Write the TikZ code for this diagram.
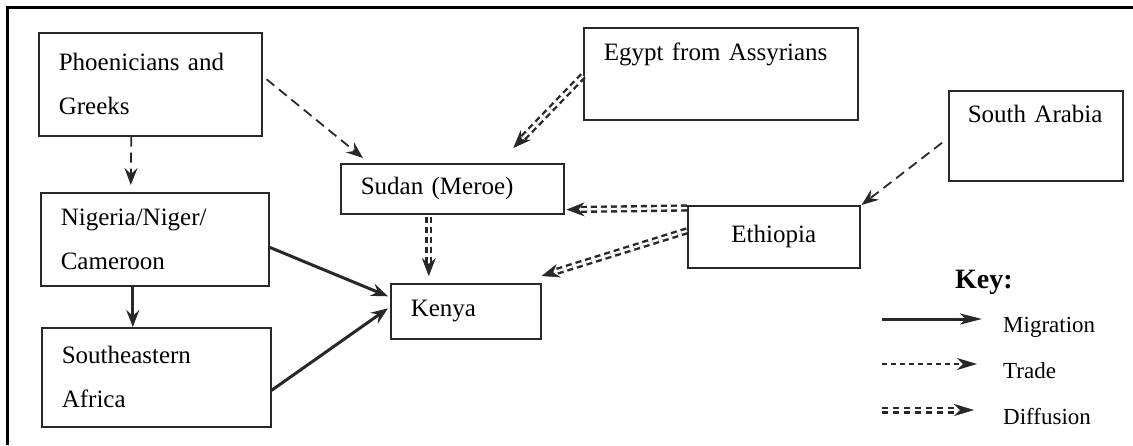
\documentclass[tikz,border=0pt]{standalone}
\usepackage{fontspec}
\setmainfont{Liberation Serif}
\usetikzlibrary{arrows.meta,calc}
\definecolor{ink}{RGB}{40,40,40}
\begin{document}
\begin{tikzpicture}[x=1pt,y=-1pt,
  box/.style={draw=ink, line width=1.6pt, anchor=north west, align=left,
    inner xsep=20pt, inner ysep=0pt, font=\fontsize{25}{44}\selectfont},
  tip/.style={-{Stealth[length=17pt,width=13pt,inset=6pt]}},
  migr/.style={draw=ink, line width=3pt, tip},
  trade/.style={draw=ink, line width=1.8pt, dash pattern=on 10pt off 6pt, tip},
  diff/.style={draw=ink, line width=2.4pt, double=white, double distance=2.4pt,
    dash pattern=on 6pt off 4pt, shorten >=12pt},
  difftip/.style={draw=ink, line width=0.5pt, -{Stealth[length=18pt,width=14pt,inset=6pt]}},
  keylab/.style={anchor=base west, font=\fontsize{23}{26}\selectfont, inner sep=0pt}]
\useasboundingbox (0,0) rectangle (1133,445);
% frame
\draw[line width=3pt, black] (7,445) -- (7,7) -- (1133,7);
% boxes
\node[box, text width=183pt, minimum height=103pt] (phoen) at (38,32) {Phoenicians and\\Greeks};
\node[box, text width=188pt, minimum height=93pt] (nigeria) at (40,192) {Nigeria/Niger/\\Cameroon};
\node[box, text width=189pt, minimum height=99pt] (sedaf) at (41,327) {Southeastern\\Africa};
\node[box, text width=234pt, minimum height=92pt] (egypt) at (583,27) {Egypt from Assyrians\\\mbox{}};
\node[box, text width=136pt, minimum height=90pt, inner xsep=19pt] (sarab) at (948,90) {South Arabia\\\mbox{}};
\node[box, text width=183pt, minimum height=50pt] (sudan) at (340,163) {Sudan (Meroe)};
\node[box, text width=110pt, minimum height=55pt] (kenya) at (390,283) {Kenya};
\node[box, text width=132pt, minimum height=62pt, align=center] (ethio) at (687,205) {Ethiopia};
% trade
\draw[trade] ($(phoen.east)+(4,-5)$) -- ($(sudan.north west)+(23,-5)$);
\draw[trade] ($(phoen.south)+(-19,0)$) -- ($(nigeria.north)+(-24,-7)$);
\draw[trade] ($(sarab.west)+(-6,7)$) -- ($(ethio.north east)+(1,0)$);
% migration
\draw[migr] ($(nigeria.south)+(-22,0)$) -- ($(sedaf.north)+(-23.5,0)$);
\draw[migr] ($(nigeria.east)+(0,8)$) -- ($(kenya.west)+(-2,-15)$);
\draw[migr] ($(sedaf.east)+(0,13)$) -- ($(kenya.west)+(-2,-3)$);
% diffusion
\coordinate (e1s) at ($(egypt.west)+(0,2)$);
\coordinate (e1e) at ($(sudan.north)+(61,-15)$);
\draw[diff] (e1s) -- (e1e); \draw[difftip] ($(e1e)!4pt!(e1s)$) -- (e1e);
\coordinate (e2s) at ($(sudan.south)+(-23.5,2)$);
\coordinate (e2e) at ($(kenya.north)+(-37,-7)$);
\draw[diff] (e2s) -- (e2e); \draw[difftip] ($(e2e)!4pt!(e2s)$) -- (e2e);
\coordinate (e3s) at ($(ethio.north west)+(0,3)$);
\coordinate (e3e) at ($(sudan.south east)+(2,-5)$);
\draw[diff] (e3s) -- (e3e); \draw[difftip] ($(e3e)!4pt!(e3s)$) -- (e3e);
\coordinate (e4s) at ($(ethio.west)+(0,-6)$);
\coordinate (e4e) at ($(kenya.north east)+(0,-7)$);
\draw[diff] (e4s) -- (e4e); \draw[difftip] ($(e4e)!4pt!(e4s)$) -- (e4e);
% key
\node[anchor=base west, inner sep=0pt, font=\bfseries\fontsize{28}{30}\selectfont] (keyt) at (955,288) {Key:};
\coordinate (k1a) at (882,319); \coordinate (k1b) at (982,319);
\coordinate (k2a) at (882,364); \coordinate (k2b) at (977,364);
\coordinate (k3a) at (882,410); \coordinate (k3b) at (974,410);
\draw[draw=ink, line width=3pt, -{Stealth[length=22pt,width=11pt,inset=6pt]}] (k1a) -- (k1b);
\draw[draw=ink, line width=1.6pt, dash pattern=on 5pt off 4pt, -{Stealth[length=20pt,width=12pt,inset=6pt]}] (k2a) -- (k2b);
\draw[draw=ink, line width=2.4pt, double=white, double distance=2.2pt, dash pattern=on 6pt off 5pt, shorten >=14pt] (k3a) -- (k3b);
\draw[draw=ink, line width=0.5pt, -{Stealth[length=20pt,width=12pt,inset=6pt]}] ($(k3b)!4pt!(k3a)$) -- (k3b);
\node[keylab] (l1) at (1003,332) {Migration};
\node[keylab] (l2) at (1003,378) {Trade};
\node[keylab] (l3) at (1003,424) {Diffusion};
\end{tikzpicture}
\end{document}
